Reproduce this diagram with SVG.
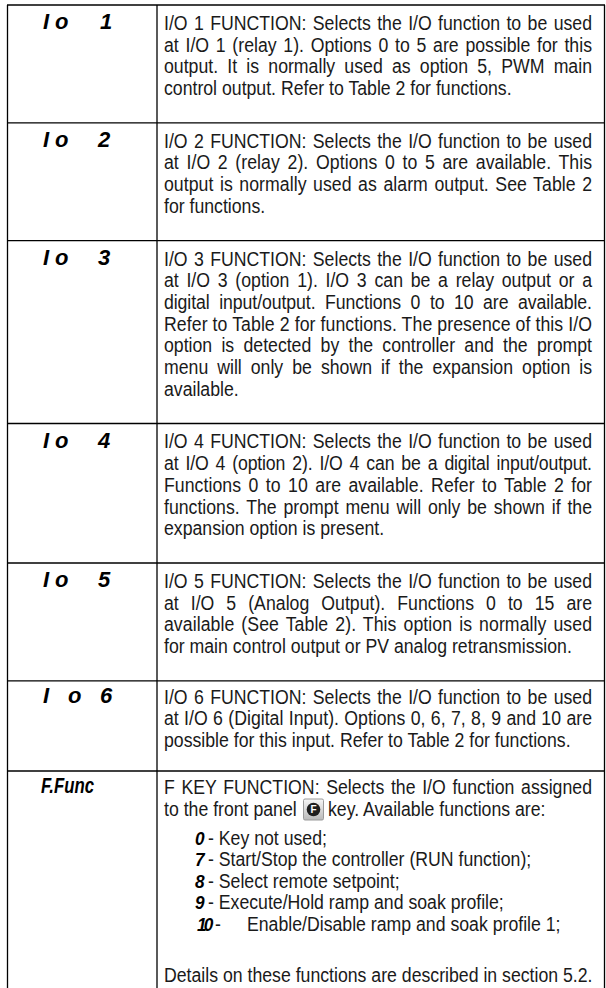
<svg xmlns="http://www.w3.org/2000/svg" width="606" height="988" viewBox="0 0 606 988">
<style>
.t{font-family:"Liberation Sans",Arial,sans-serif;font-size:19.5px;fill:#1a1a1a}
.lb{font-family:"Liberation Sans",Arial,sans-serif;font-size:22px;font-weight:bold;font-style:italic;fill:#000}
.d{font-family:"Liberation Sans",Arial,sans-serif;font-weight:bold;font-style:italic;font-size:19px;fill:#000}
.grid line{stroke:#000;stroke-width:1.3}
</style>
<defs>
<linearGradient id="kg" x1="0" y1="0" x2="0" y2="1">
<stop offset="0" stop-color="#f7f7f7"/>
<stop offset="1" stop-color="#b9b9b9"/>
</linearGradient>
</defs>
<rect width="606" height="988" fill="#fff"/>
<g id="grid" class="grid">
<line x1="7.5" y1="5" x2="7.5" y2="988"/>
<line x1="157" y1="5" x2="157" y2="988"/>
<line x1="604.5" y1="5" x2="604.5" y2="988"/>
<line x1="7" y1="5" x2="605" y2="5"/>
<line x1="7" y1="122.8" x2="605" y2="122.8"/>
<line x1="7" y1="240.6" x2="605" y2="240.6"/>
<line x1="7" y1="423.5" x2="605" y2="423.5"/>
<line x1="7" y1="563" x2="605" y2="563"/>
<line x1="7" y1="680.8" x2="605" y2="680.8"/>
<line x1="7" y1="771" x2="605" y2="771"/>
</g>
<g id="row-io1">
<text class="lb" y="29"><tspan x="43">I</tspan><tspan x="55">o </tspan><tspan x="100">1</tspan></text>
<g transform="scale(0.907,1)">
<text class="t" x="180.8" y="30" word-spacing="1.6" textLength="471.9" lengthAdjust="spacing">I/O 1 FUNCTION: Selects the I/O function to be used</text>
<text class="t" x="180.8" y="51.7" word-spacing="2" textLength="471.9" lengthAdjust="spacing">at I/O 1 (relay 1). Options 0 to 5 are possible for this</text>
<text class="t" x="180.8" y="73.4" word-spacing="4.7" textLength="471.9" lengthAdjust="spacing">output. It is normally used as option 5, PWM main</text>
<text class="t" x="180.8" y="95.1">control output. Refer to Table 2 for functions.</text>
</g>
</g>
<g id="row-io2">
<text class="lb" y="146.8"><tspan x="43">I</tspan><tspan x="55">o </tspan><tspan x="98">2</tspan></text>
<g transform="scale(0.907,1)">
<text class="t" x="180.8" y="147.8" word-spacing="1.6" textLength="471.9" lengthAdjust="spacing">I/O 2 FUNCTION: Selects the I/O function to be used</text>
<text class="t" x="180.8" y="169.5" word-spacing="2.9" textLength="471.9" lengthAdjust="spacing">at I/O 2 (relay 2). Options 0 to 5 are available. This</text>
<text class="t" x="180.8" y="191.2" word-spacing="1.7" textLength="471.9" lengthAdjust="spacing">output is normally used as alarm output. See Table 2</text>
<text class="t" x="180.8" y="212.9">for functions.</text>
</g>
</g>
<g id="row-io3">
<text class="lb" y="264.6"><tspan x="43">I</tspan><tspan x="55">o </tspan><tspan x="98">3</tspan></text>
<g transform="scale(0.907,1)">
<text class="t" x="180.8" y="265.6" word-spacing="1.6" textLength="471.9" lengthAdjust="spacing">I/O 3 FUNCTION: Selects the I/O function to be used</text>
<text class="t" x="180.8" y="287.3" word-spacing="3.1" textLength="471.9" lengthAdjust="spacing">at I/O 3 (option 1). I/O 3 can be a relay output or a</text>
<text class="t" x="180.8" y="309" word-spacing="5.2" textLength="471.9" lengthAdjust="spacing">digital input/output. Functions 0 to 10 are available.</text>
<text class="t" x="180.8" y="330.7" textLength="471.9" lengthAdjust="spacing">Refer to Table 2 for functions. The presence of this I/O</text>
<text class="t" x="180.8" y="352.4" word-spacing="4.8" textLength="471.9" lengthAdjust="spacing">option is detected by the controller and the prompt</text>
<text class="t" x="180.8" y="374.1" word-spacing="4.5" textLength="471.9" lengthAdjust="spacing">menu will only be shown if the expansion option is</text>
<text class="t" x="180.8" y="395.8">available.</text>
</g>
</g>
<g id="row-io4">
<text class="lb" y="447.5"><tspan x="43">I</tspan><tspan x="55">o </tspan><tspan x="98">4</tspan></text>
<g transform="scale(0.907,1)">
<text class="t" x="180.8" y="448.5" word-spacing="1.6" textLength="471.9" lengthAdjust="spacing">I/O 4 FUNCTION: Selects the I/O function to be used</text>
<text class="t" x="180.8" y="470.2" word-spacing="2.5" textLength="471.9" lengthAdjust="spacing">at I/O 4 (option 2). I/O 4 can be a digital input/output.</text>
<text class="t" x="180.8" y="491.9" word-spacing="2.7" textLength="471.9" lengthAdjust="spacing">Functions 0 to 10 are available. Refer to Table 2 for</text>
<text class="t" x="180.8" y="513.6" word-spacing="2.1" textLength="471.9" lengthAdjust="spacing">functions. The prompt menu will only be shown if the</text>
<text class="t" x="180.8" y="535.3">expansion option is present.</text>
</g>
</g>
<g id="row-io5">
<text class="lb" y="587"><tspan x="43">I</tspan><tspan x="55">o </tspan><tspan x="98">5</tspan></text>
<g transform="scale(0.907,1)">
<text class="t" x="180.8" y="588" word-spacing="1.6" textLength="471.9" lengthAdjust="spacing">I/O 5 FUNCTION: Selects the I/O function to be used</text>
<text class="t" x="180.8" y="609.7" word-spacing="7.8" textLength="471.9" lengthAdjust="spacing">at I/O 5 (Analog Output). Functions 0 to 15 are</text>
<text class="t" x="180.8" y="631.4" word-spacing="2.3" textLength="471.9" lengthAdjust="spacing">available (See Table 2). This option is normally used</text>
<text class="t" x="180.8" y="653.1">for main control output or PV analog retransmission.</text>
</g>
</g>
<g id="row-io6">
<text class="lb" y="702.8"><tspan x="43">I </tspan><tspan x="68">o </tspan><tspan x="100">6</tspan></text>
<g transform="scale(0.907,1)">
<text class="t" x="180.8" y="703.8" word-spacing="1.6" textLength="471.9" lengthAdjust="spacing">I/O 6 FUNCTION: Selects the I/O function to be used</text>
<text class="t" x="180.8" y="725.5" word-spacing="0.5" textLength="471.9" lengthAdjust="spacing">at I/O 6 (Digital Input). Options 0, 6, 7, 8, 9 and 10 are</text>
<text class="t" x="180.8" y="747.2">possible for this input. Refer to Table 2 for functions.</text>
</g>
</g>
<g id="row-ffunc">
<text class="lb" x="41" y="793" font-size="23" textLength="53" lengthAdjust="spacingAndGlyphs">F.Func</text>
<g transform="scale(0.907,1)">
<text class="t" x="180.8" y="794" word-spacing="1.9" textLength="471.9" lengthAdjust="spacing">F KEY FUNCTION: Selects the I/O function assigned</text>
<text class="t" x="180.8" y="816">to the front panel</text>
<text class="t" x="361.6" y="816">key. Available functions are:</text>
<text class="d" x="215" y="845">0</text>
<text class="t" x="229.3" y="845">- Key not used;</text>
<text class="d" x="215" y="866.5">7</text>
<text class="t" x="229.3" y="866.5">- Start/Stop the controller (RUN function);</text>
<text class="d" x="215" y="888">8</text>
<text class="t" x="229.3" y="888">- Select remote setpoint;</text>
<text class="d" x="215" y="909.5">9</text>
<text class="t" x="229.3" y="909.5">- Execute/Hold ramp and soak profile;</text>
<text class="d" x="217.2" y="931" letter-spacing="-3">10</text>
<text class="t" x="237" y="931">-</text>
<text class="t" x="272.3" y="931">Enable/Disable ramp and soak profile 1;</text>
<text class="t" x="180.8" y="982">Details on these functions are described in section 5.2.</text>
</g>
<g id="fkey-icon">
<rect x="303.5" y="799" width="20" height="21" rx="1.5" fill="url(#kg)" stroke="#9a9a9a" stroke-width="1"/>
<circle cx="313.5" cy="809.5" r="6.8" fill="#1e1e1e"/>
<text x="313.5" y="813.1" text-anchor="middle" style="font-family:'Liberation Sans',Arial,sans-serif;font-weight:bold;font-size:10px;fill:#fff">F</text>
</g>
</g>
</svg>
